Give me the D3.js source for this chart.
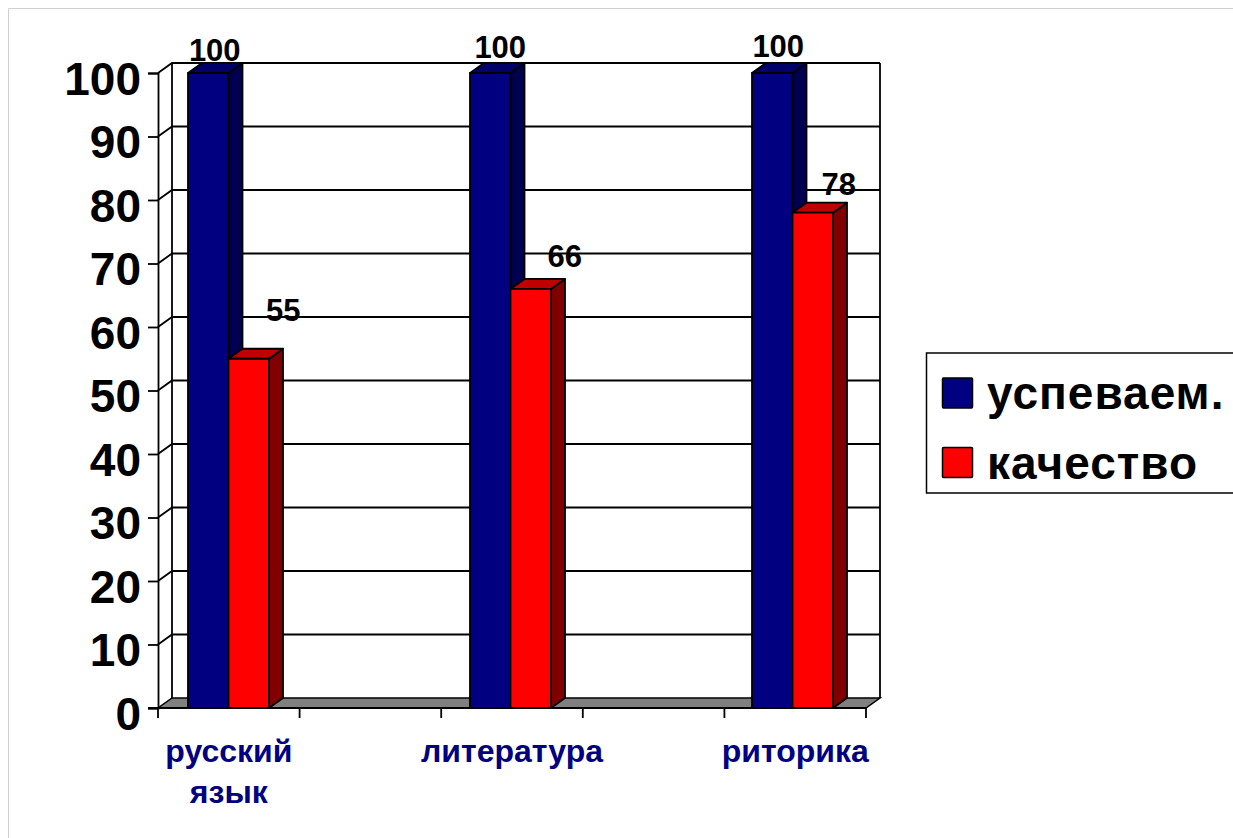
<!DOCTYPE html>
<html>
<head>
<meta charset="utf-8">
<script src="https://cdn.jsdelivr.net/npm/d3@7"></script>
<style>
  html, body { margin: 0; padding: 0; background: #fff; overflow: hidden; }
  svg { display: block; font-family: "Liberation Sans", Arial, sans-serif; font-weight: bold; }
</style>
</head>
<body>
<svg id="chart" width="1233" height="838"></svg>
<script>
// blank slots are how the original skips every second category
const categories = ['русский язык', ' ', 'литература', '  ', 'риторика'];
const seriesNames = ['успеваем.', 'качество'];
const uspevaem = [100, 100, 100];
const kachestvo = [55, 66, 78];
const barCategories = ['русский язык', 'литература', 'риторика'];
const yTicks = [0, 10, 20, 30, 40, 50, 60, 70, 80, 90, 100];

const colors = ['#000080', '#ff0000'];
const sideColors = ['#000050', '#800000'];
const topColors = ['#000068', '#c00000'];
const depth = { x: 14, y: -10 };
const barWidth = 40.5;

// the data labels were placed by hand in the original
const labelOffsets = [
  [[6.5, -23], [10, -26], [6, -27]],
  [[34.5, -49], [34, -33], [26, -29]]
];

const svg = d3.select('#chart');

// page frame
svg.append('path').attr('d', 'M8.5,838V8.5H1233').attr('fill', 'none').attr('stroke', '#d0d0d0');

const x = d3.scaleBand().domain(categories).range([158, 866]);
// bar groups sit slightly left of the tick slots in the original
const xBars = d3.scaleBand().domain(categories).range([158, 863]);
const y = d3.scaleLinear().domain([0, 100]).range([708, 73]);
const backX = v => v + depth.x;
const backY = v => v + depth.y;

// floor
svg.append('polygon')
  .attr('points', [[158, y(0)], [866, y(0)], [backX(866), backY(y(0))], [backX(158), backY(y(0))]].join(' '))
  .attr('fill', '#808080').attr('stroke', '#000').attr('stroke-width', 1.5);

// walls and gridlines
const grid = svg.append('g').attr('fill', 'none').attr('stroke', '#000').attr('stroke-width', 1.8);
grid.selectAll('.grid').data(yTicks.slice(1)).enter().append('path')
  .attr('class', 'grid')
  .attr('d', d => `M158,${y(d)}L${backX(158)},${backY(y(d))}H${backX(866)}`);
grid.append('path').attr('d', `M${backX(158)},${backY(y(0))}V${backY(y(100))}`);
grid.append('path').attr('d', `M${backX(866)},${backY(y(0))}V${backY(y(100))}`);

// axes
const yAxis = svg.append('g').attr('transform', 'translate(158,0)')
  .call(d3.axisLeft(y).tickValues(yTicks).tickSize(10).tickPadding(7));
yAxis.select('.domain').attr('stroke-width', 1.8);
yAxis.selectAll('.tick line').attr('stroke-width', 1.8);
yAxis.selectAll('.tick text')
  .attr('dy', 21)
  .attr('font-size', 46).attr('font-family', '"Liberation Sans", Arial, sans-serif')
  .attr('font-weight', 'bold').attr('fill', '#000');

const xAxis = svg.append('g').attr('transform', `translate(0,${y(0)})`)
  .call(d3.axisBottom(x).tickSize(0).tickFormat(''));
xAxis.select('.domain').remove();
xAxis.selectAll('.tick').remove();
const edges = categories.map(c => x(c)).concat(866);
xAxis.selectAll('.edge').data(edges).enter().append('line')
  .attr('class', 'edge')
  .attr('x1', d => d).attr('x2', d => d)
  .attr('y1', 0).attr('y2', 10)
  .attr('stroke', '#000').attr('stroke-width', 1.8);
svg.append('line').attr('x1', 148).attr('x2', 866).attr('y1', y(0)).attr('y2', y(0))
  .attr('stroke', '#000').attr('stroke-width', 1.8);

// bars, back to front so the front series overlaps
[uspevaem, kachestvo].forEach((values, s) => {
  const g = svg.append('g').attr('stroke', '#000').attr('stroke-width', 1.8).attr('stroke-linejoin', 'round');
  const left = (d, i) => xBars(barCategories[i]) + xBars.bandwidth() / 2 - barWidth + s * barWidth;
  g.selectAll('.side').data(values).enter().append('polygon')
    .attr('fill', sideColors[s])
    .attr('points', (d, i) => {
      const r = left(d, i) + barWidth;
      return [[r, y(d)], [r + depth.x, y(d) + depth.y], [r + depth.x, y(0) + depth.y], [r, y(0)]].join(' ');
    });
  g.selectAll('.top').data(values).enter().append('polygon')
    .attr('fill', topColors[s])
    .attr('points', (d, i) => {
      const l = left(d, i);
      return [[l, y(d)], [l + depth.x, y(d) + depth.y], [l + barWidth + depth.x, y(d) + depth.y], [l + barWidth, y(d)]].join(' ');
    });
  g.selectAll('.front').data(values).enter().append('rect')
    .attr('fill', colors[s])
    .attr('x', left)
    .attr('y', d => y(d))
    .attr('width', barWidth)
    .attr('height', d => y(0) - y(d));
});

// data labels
[uspevaem, kachestvo].forEach((values, s) => {
  svg.append('g').selectAll('text').data(values).enter().append('text')
    .attr('x', (d, i) => xBars(barCategories[i]) + xBars.bandwidth() / 2 + (s - 0.5) * barWidth + labelOffsets[s][i][0])
    .attr('y', (d, i) => y(d) + labelOffsets[s][i][1])
    .attr('dy', '0.36em')
    .attr('text-anchor', 'middle')
    .attr('font-size', 31)
    .attr('fill', '#000')
    .text(d => d);
});

// category labels, wrapped on spaces
svg.append('g').selectAll('text').data(barCategories).enter().append('text')
  .attr('text-anchor', 'middle')
  .attr('font-size', 32)
  .attr('fill', '#000080')
  .each(function (d) {
    d3.select(this).selectAll('tspan').data(d.split(' ')).enter().append('tspan')
      .attr('x', x(d) + x.bandwidth() / 2)
      .attr('y', (w, i) => 762 + i * 41)
      .text(w => w);
  });

// legend
const legend = svg.append('g');
legend.append('rect').attr('x', 926.5).attr('y', 353).attr('width', 320).attr('height', 140)
  .attr('fill', '#fff').attr('stroke', '#000').attr('stroke-width', 1.5);
const rows = legend.selectAll('.row').data(seriesNames).enter().append('g')
  .attr('class', 'row')
  .attr('transform', (d, i) => `translate(0,${378 + i * 69.5})`);
rows.append('rect').attr('x', 942.5).attr('width', 30).attr('height', 30).attr('rx', 1)
  .attr('fill', (d, i) => colors[i]).attr('stroke', '#000').attr('stroke-width', 1.5);
rows.append('text').attr('x', 987).attr('y', 31)
  .attr('font-size', 46).attr('letter-spacing', 1).attr('fill', '#000')
  .text(d => d);
</script>
</body>
</html>
